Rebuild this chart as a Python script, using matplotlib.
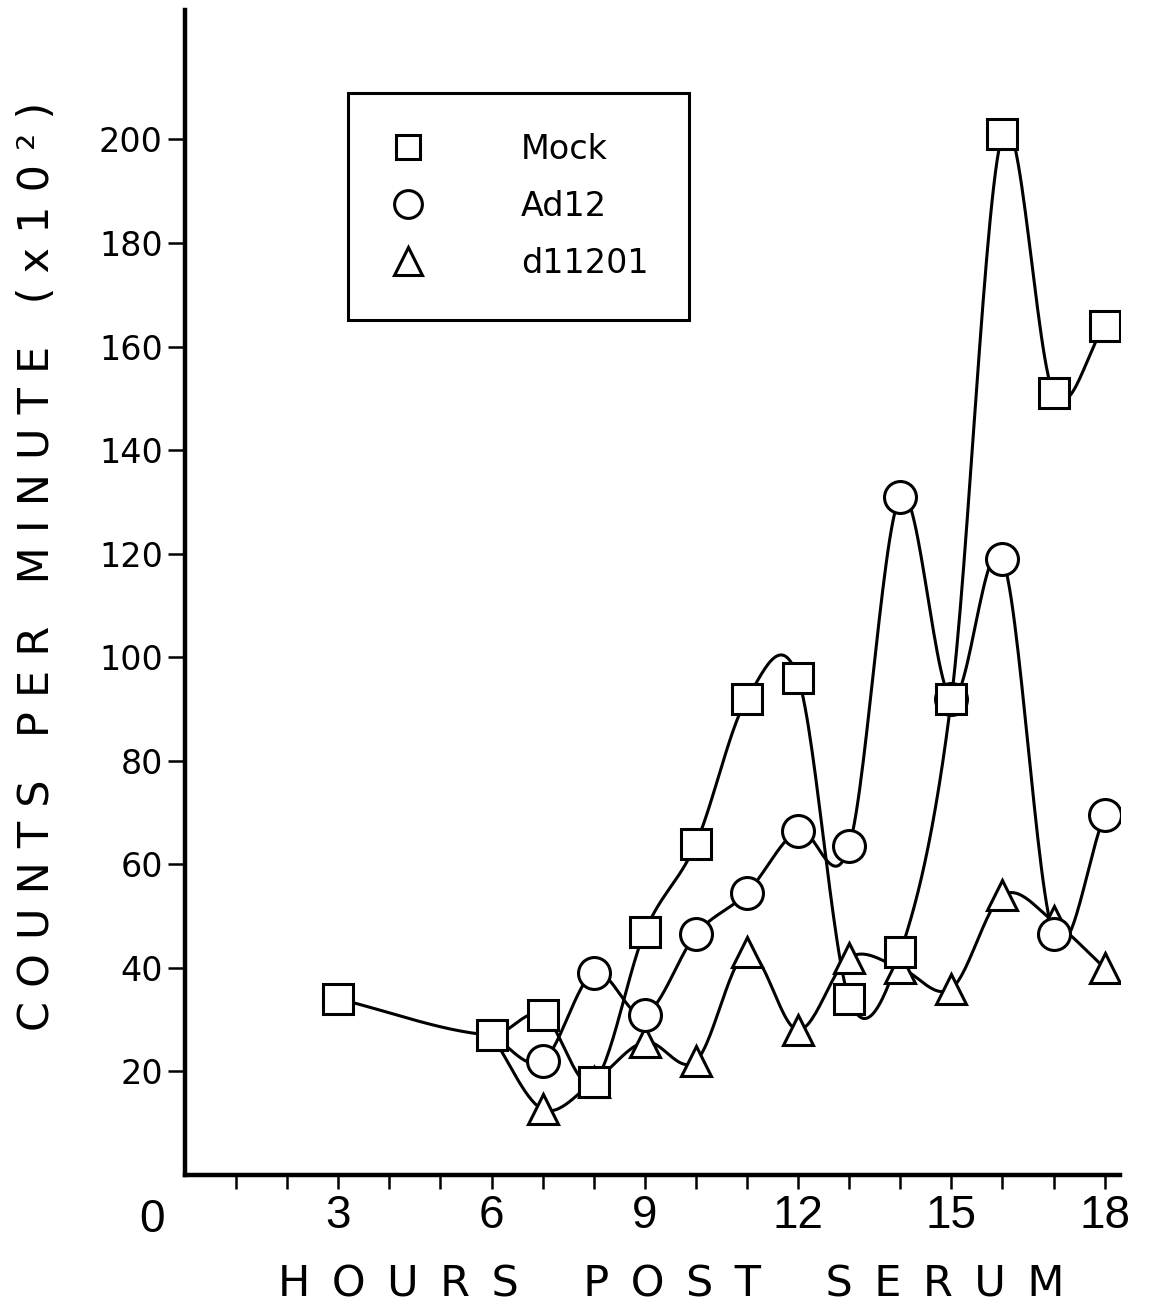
import numpy as np
import matplotlib
matplotlib.use('Agg')
import matplotlib.pyplot as plt
from matplotlib import font_manager
from matplotlib.lines import Line2D

# data (hours, counts x10^2)
mock_x = [3, 6, 7, 8, 9, 10, 11, 12, 13, 14, 15, 16, 17, 18]
mock_y = [34, 27, 31, 18, 47, 64, 92, 96, 34, 43, 92, 201, 151, 164]

# Ad12 and d11201 curves start at the shared 6 h point
ad12_x = [6, 7, 8, 9, 10, 11, 12, 13, 14, 15, 16, 17, 18]
ad12_y = [27, 22, 39, 31, 46.5, 54.5, 66.5, 63.5, 131, 92, 119, 46.5, 69.5]

dl_x = [6, 7, 8, 9, 10, 11, 12, 13, 14, 15, 16, 17, 18]
dl_y = [27, 12.7, 18, 25.7, 22, 43, 28, 42, 40, 36, 54, 49, 40]

labels = ['Mock', 'Ad12', 'd11201']
xticks = [3, 6, 9, 12, 15, 18]
yticks = [20, 40, 60, 80, 100, 120, 140, 160, 180, 200]

names = {f.name for f in font_manager.fontManager.ttflist}
narrow = 'Liberation Sans Narrow' if 'Liberation Sans Narrow' in names else 'Liberation Sans'


def smooth(x, y, n=30):
    # cardinal (Catmull-Rom style) hermite curve through the points
    x = np.asarray(x, float)
    y = np.asarray(y, float)
    m = np.zeros_like(y)
    m[1:-1] = (y[2:] - y[:-2]) / (x[2:] - x[:-2])
    m[0] = (y[1] - y[0]) / (x[1] - x[0])
    m[-1] = (y[-1] - y[-2]) / (x[-1] - x[-2])
    xs, ys = [], []
    for i in range(len(x) - 1):
        h = x[i + 1] - x[i]
        t = np.linspace(0, 1, n)
        h00 = 2*t**3 - 3*t**2 + 1
        h10 = t**3 - 2*t**2 + t
        h01 = -2*t**3 + 3*t**2
        h11 = t**3 - t**2
        xs.append(x[i] + t*h)
        ys.append(h00*y[i] + h10*h*m[i] + h01*y[i+1] + h11*h*m[i+1])
    return np.concatenate(xs), np.concatenate(ys)


def spaced(s, gap):
    # letter spacing: gap char between letters, three of them between words
    return (gap * 3).join(gap.join(w) for w in s.split(' '))


fig = plt.figure(figsize=(11.52, 13.12), dpi=100)
ax = fig.add_axes([0.1606, 0.1044, 0.8116, 0.888])

lw = 2.2
mk = dict(color='black', markerfacecolor='white', markeredgecolor='black',
          markeredgewidth=2.2, linestyle='none')

for xs, ys in [(mock_x, mock_y), (ad12_x, ad12_y), (dl_x, dl_y)]:
    sx, sy = smooth(xs, ys)
    ax.plot(sx, sy, color='black', lw=lw, zorder=2)

ax.plot(dl_x[1:], dl_y[1:], marker='^', markersize=22, zorder=3, **mk)
ax.plot(ad12_x[1:], ad12_y[1:], marker='o', markersize=23, zorder=4, **mk)
ax.plot(mock_x, mock_y, marker='s', markersize=21, zorder=5, **mk)

ax.set_xlim(0, 18.3)
ax.set_ylim(0, 225)
for s in ['top', 'right']:
    ax.spines[s].set_visible(False)
for s in ['left', 'bottom']:
    ax.spines[s].set_linewidth(3.2)

ax.set_xticks(range(1, 19))
ax.set_xticklabels([str(v) if v in xticks else '' for v in range(1, 19)],
                   family=narrow, fontsize=33)
ax.tick_params(axis='x', direction='out', length=10, width=1.8, pad=4)
ax.text(-0.65, -0.02, '0', transform=ax.get_xaxis_transform(), ha='center',
        va='top', family=narrow, fontsize=33)

ax.set_yticks(yticks)
ax.set_yticklabels([str(v) for v in yticks], family='DejaVu Sans', fontsize=24)
ax.tick_params(axis='y', direction='out', length=12, width=1.8, pad=4)

fig.text(0.032, 0.568, spaced('COUNTS PER MINUTE (x10\u00b2)', '\u2004'),
         rotation=90, ha='center', va='center', fontsize=31,
         family='DejaVu Sans')
fig.text(0.583, 0.021, spaced('HOURS POST SERUM', '\u2002'), ha='center',
         va='center', fontsize=31, family='DejaVu Sans')

handles = [Line2D([], [], marker='s', markersize=17, **mk),
           Line2D([], [], marker='o', markersize=20, **mk),
           Line2D([], [], marker='^', markersize=20, **mk)]
leg = ax.legend(handles, labels, loc='upper left', bbox_to_anchor=(0.174, 0.929),
                frameon=True, fancybox=False, edgecolor='black', framealpha=1,
                fontsize=24, handlelength=1.2, handletextpad=2.8, borderpad=1.2,
                labelspacing=0.72, borderaxespad=0)
leg.get_frame().set_linewidth(2.2)

fig.savefig('out.png', dpi=100)
